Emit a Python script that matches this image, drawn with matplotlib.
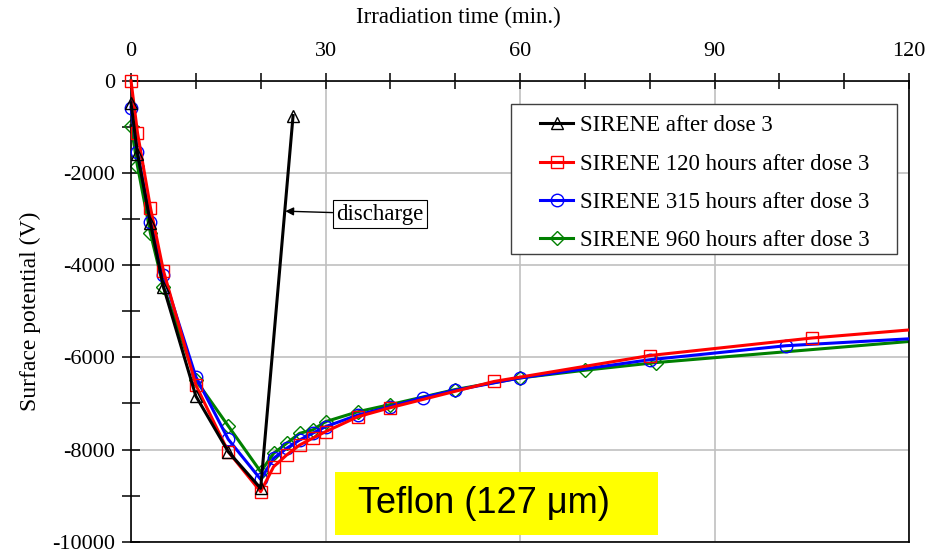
import numpy as np
import matplotlib
matplotlib.use("Agg")
import matplotlib.pyplot as plt
from matplotlib.patches import Rectangle

plt.rcParams['font.family'] = ['Liberation Serif', 'DejaVu Serif']
plt.rcParams['axes.unicode_minus'] = False

# data (time in min, surface potential in V)
t_black = [0, 1, 3, 5, 10, 15, 20, 25]
v_black = [-480, -1580, -3095, -4470, -6840, -8047, -8843, -756]

t_red = [0, 1, 3, 5, 10, 15, 20, 22, 24, 26, 28, 30, 35, 40, 56, 80, 105, 130]
v_red = [0, -1128, -2755, -4121, -6601, -8047, -8915, -8373, -8120, -7903,
         -7757, -7614, -7289, -7093, -6524, -5962, -5582, -5290]

t_blue = [0, 1, 3, 5, 10, 15, 20, 22, 24, 26, 28, 30, 35, 40, 45, 50, 60, 80, 101, 130]
v_blue = [-585, -1554, -3058, -4215, -6421, -7779, -8648, -8191, -7975, -7794,
          -7649, -7505, -7252, -7070, -6873, -6714, -6448, -6053, -5749, -5520]

t_green = [0, 1, 3, 5, 10, 15, 20, 22, 24, 26, 28, 30, 35, 40, 50, 60, 70, 81, 130]
v_green = [-976, -1850, -3311, -4468, -6493, -7490, -8481, -8083, -7866, -7649,
           -7577, -7397, -7180, -7025, -6700, -6448, -6281, -6114, -5540]

labels = ['SIRENE after dose 3', 'SIRENE 120 hours after dose 3',
          'SIRENE 315 hours after dose 3', 'SIRENE 960 hours after dose 3']

fig = plt.figure(figsize=(9.47, 5.55), dpi=100)
ax = fig.add_axes([131/947, 1-541.7/555, 778/947, 461/555])

series = [(t_black, v_black, 'black', '^', 5),
          (t_red, v_red, '#ff0000', 's', 4),
          (t_blue, v_blue, '#0000ff', 'o', 3),
          (t_green, v_green, '#008000', 'D', 2)]

# clip lines at the right edge only, keep markers on the left/top edges whole
clip = Rectangle((-0.05, -0.05), 1.05, 1.1, transform=ax.transAxes)
handles = []
for (t, v, c, m, z), lab in zip(series, labels):
    t = np.array(t)
    ms = 7 if m == 'D' else 9
    ln, = ax.plot(t, v, color=c, lw=2.2, marker=m, ms=ms, mfc='none', mec=c,
                  mew=1, markevery=list(t <= 120), zorder=z, label=lab)
    ln.set_clip_path(clip)
    handles.append(ln)

ax.set_xlim(0, 120)
ax.set_ylim(-10000, 0)
ax.set_xticks([0, 30, 60, 90, 120])
ax.set_xticks(np.arange(0, 121, 10), minor=True)
ax.set_yticks(np.arange(-10000, 1, 2000))
ax.set_yticks(np.arange(-9000, 0, 2000), minor=True)
ax.xaxis.tick_top()
ax.tick_params(axis='x', which='both', direction='inout', length=12, width=1.1,
               labelsize=16, pad=8, bottom=False)
ax.tick_params(axis='y', which='both', direction='inout', length=13, width=1.1,
               labelsize=16, pad=5, right=False)
ax.grid(True, which='major', color='#c0c0c0', lw=1.2)
ax.set_axisbelow(True)
for s in ax.spines.values():
    s.set_color('black')
    s.set_linewidth(1.2)

ax.set_ylabel('Surface potential (V)', fontsize=17, labelpad=8)
fig.text(458/947, 1-17/555, 'Irradiation time (min.)', fontsize=16.5,
         ha='center', va='center')

# legend box
ax.add_patch(Rectangle((0.489, 0.623), 0.495, 0.326, transform=ax.transAxes,
                       facecolor='white', edgecolor='#404040', lw=1, zorder=6))
leg = ax.legend(handles=handles, loc='upper left', bbox_to_anchor=(0.5257, 0.925),
                frameon=False, fontsize=16.5, handlelength=1.45, handletextpad=0.3,
                labelspacing=0.75, borderpad=0, borderaxespad=0)
leg.set_zorder(7)

# discharge annotation
ax.annotate('discharge', xy=(23.8, -2830), xytext=(38.4, -2892),
            fontsize=16.5, ha='center', va='center',
            bbox=dict(boxstyle='square,pad=0.15', fc='white', ec='black', lw=0.8),
            arrowprops=dict(arrowstyle='-|>', color='black', lw=1,
                            mutation_scale=12, shrinkA=0, shrinkB=0))

# Teflon label
ax.add_patch(Rectangle((0.262, 0.0145), 0.415, 0.1375, transform=ax.transAxes,
                       facecolor='#ffff00', edgecolor='none', zorder=6))
ax.text(0.292, 0.082, 'Teflon (127 \u03bcm)', transform=ax.transAxes,
        fontsize=26, family=['Liberation Sans', 'DejaVu Sans'],
        ha='left', va='center', zorder=7)

fig.savefig('out.png', dpi=100)
